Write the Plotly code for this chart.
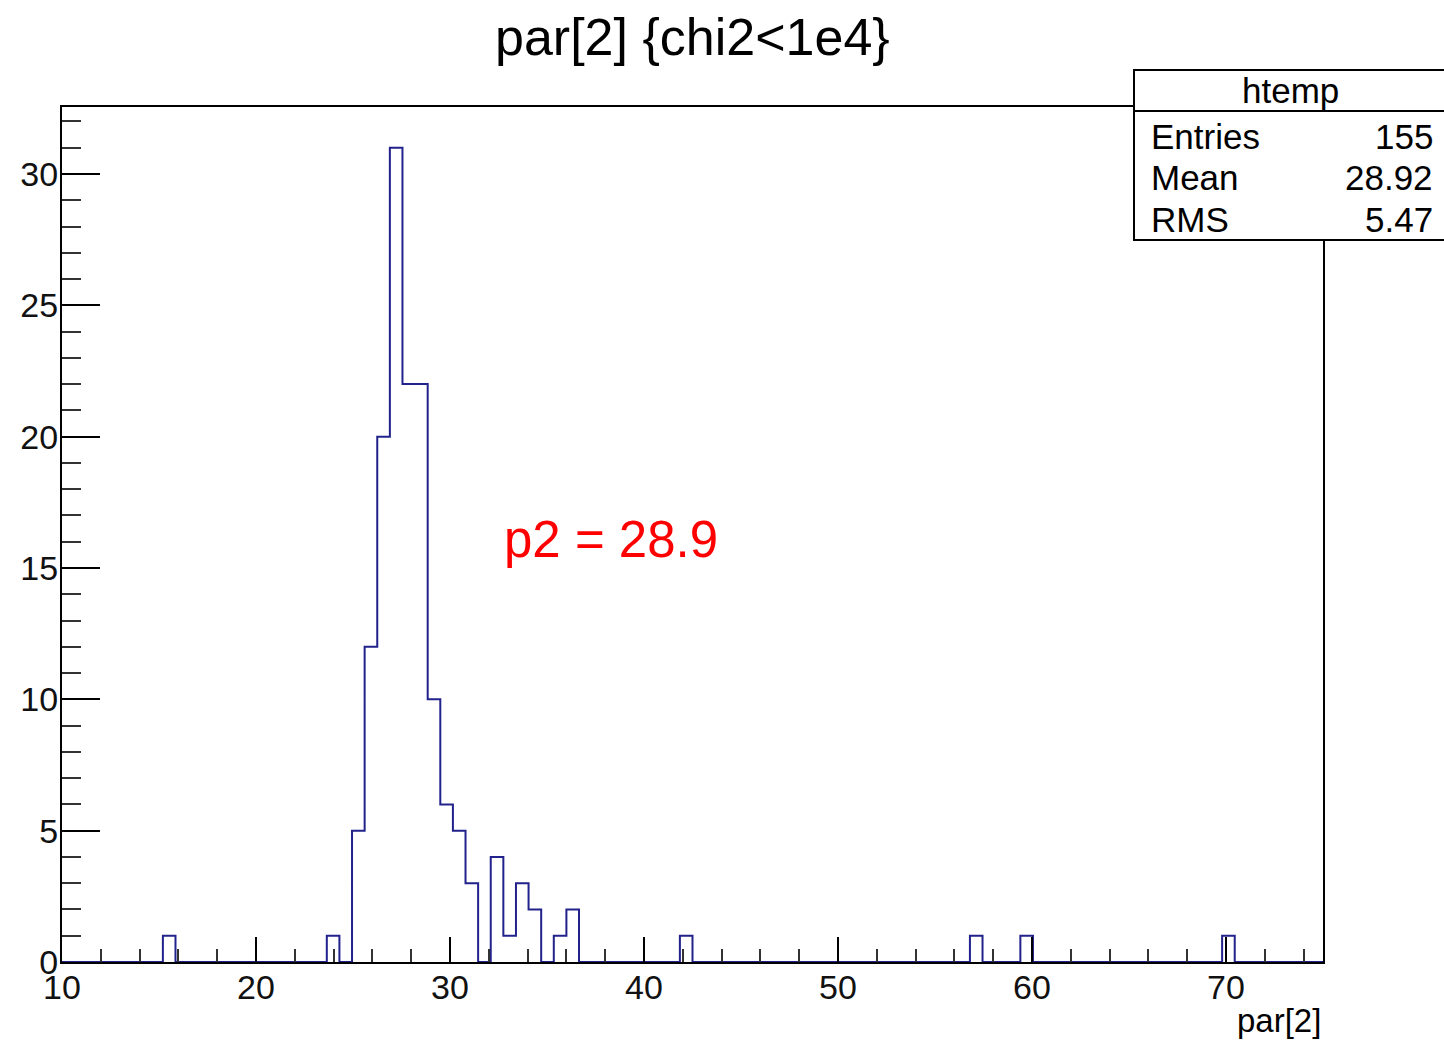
import plotly.graph_objects as go

# ---- data ----
x_min, x_max, n_bins = 10.0, 75.0, 100
counts = [
    0, 0, 0, 0, 0, 0, 0, 0, 1, 0,
    0, 0, 0, 0, 0, 0, 0, 0, 0, 0,
    0, 1, 0, 5, 12, 20, 31, 22, 22, 10,
    6, 5, 3, 0, 4, 1, 3, 2, 0, 1,
    2, 0, 0, 0, 0, 0, 0, 0, 0, 1,
    0, 0, 0, 0, 0, 0, 0, 0, 0, 0,
    0, 0, 0, 0, 0, 0, 0, 0, 0, 0,
    0, 0, 1, 0, 0, 0, 1, 0, 0, 0,
    0, 0, 0, 0, 0, 0, 0, 0, 0, 0,
    0, 0, 1, 0, 0, 0, 0, 0, 0, 0,
]
y_max = 32.55
title_text = "par[2] {chi2<1e4}"
x_title = "par[2]"
stats_name = "htemp"
stats_labels = ["Entries", "Mean", "RMS"]
stats_values = ["155", "28.92", "5.47"]
fit_label = "p2 = 28.9"
fit_label_pos = (32.7, 16.1)

# ---- geometry ----
W, H = 1444, 1040
L, R, T, B = 62, 1323, 107, 962
pw, ph = R - L, B - T

def px(xpix):
    return (xpix - L) / pw

def py(ypix):
    return (B - ypix) / ph

FONT = "Liberation Sans, Arial, Helvetica, sans-serif"

width = (x_max - x_min) / n_bins
edges = [x_min + i * width for i in range(n_bins + 1)]
ys = counts + [counts[-1]]

fig = go.Figure()
fig.add_trace(go.Scatter(
    x=edges, y=ys, mode="lines", line_shape="hv",
    line=dict(color="#22228c", width=2), hoverinfo="skip", showlegend=False,
))

fig.update_layout(
    width=W, height=H,
    margin=dict(l=L, r=W - R, t=T, b=H - B, pad=0),
    paper_bgcolor="white", plot_bgcolor="white",
    font=dict(family=FONT, color="black"),
    showlegend=False,
)

fig.update_xaxes(
    range=[x_min, x_max], showgrid=False, zeroline=False,
    showline=True, linecolor="black", linewidth=2, mirror=True,
    ticks="inside", tick0=10, dtick=10, ticklen=25, tickwidth=2, tickcolor="black",
    minor=dict(ticks="inside", dtick=2, tick0=10, ticklen=13, tickwidth=2, tickcolor="#333333", showgrid=False),
    tickfont=dict(size=34, family=FONT, color="#111111"),
    ticklabelstandoff=-6,
)
fig.update_yaxes(
    range=[0, y_max], showgrid=False, zeroline=False,
    showline=True, linecolor="black", linewidth=2, mirror=True,
    ticks="inside", tick0=0, dtick=5, ticklen=38, tickwidth=2, tickcolor="black",
    minor=dict(ticks="inside", dtick=1, tick0=0, ticklen=19, tickwidth=2, tickcolor="#333333", showgrid=False),
    tickfont=dict(size=34, family=FONT, color="#111111"),
    ticklabelstandoff=-5,
)

ann = []
# title
ann.append(dict(text=title_text, xref="paper", yref="paper", x=0.5, y=py(37),
                xanchor="center", yanchor="middle", showarrow=False,
                font=dict(size=52, family=FONT, color="black")))
# x axis title
ann.append(dict(text=x_title, xref="paper", yref="paper", x=1.0, y=py(1020),
                xanchor="right", yanchor="middle", showarrow=False,
                font=dict(size=33, family=FONT, color="black")))
# red label
ann.append(dict(text=fit_label, xref="x", yref="y", x=fit_label_pos[0], y=fit_label_pos[1],
                xanchor="left", yanchor="middle", showarrow=False,
                font=dict(size=51, family=FONT, color="#ff0000")))

# stats box
bx0, bx1, by0, bsep, by1 = 1134, 1447, 70, 111, 240
shapes = [
    dict(type="rect", xref="paper", yref="paper", x0=px(bx0), x1=px(bx1), y0=py(by1), y1=py(by0),
         fillcolor="white", line=dict(color="black", width=2), layer="above"),
    dict(type="line", xref="paper", yref="paper", x0=px(bx0), x1=px(bx1), y0=py(bsep), y1=py(bsep),
         line=dict(color="black", width=2), layer="above"),
]
ann.append(dict(text=stats_name, xref="paper", yref="paper", x=px(1290), y=py(90),
                xanchor="center", yanchor="middle", showarrow=False,
                font=dict(size=35, family=FONT, color="black")))
row_y = [136, 177, 219]
for lab, val, yy in zip(stats_labels, stats_values, row_y):
    ann.append(dict(text=lab, xref="paper", yref="paper", x=px(1149), y=py(yy),
                    xanchor="left", yanchor="middle", showarrow=False,
                    font=dict(size=35, family=FONT, color="black")))
    ann.append(dict(text=val, xref="paper", yref="paper", x=px(1435), y=py(yy),
                    xanchor="right", yanchor="middle", showarrow=False,
                    font=dict(size=35, family=FONT, color="black")))

fig.update_layout(annotations=ann, shapes=shapes)
fig.write_html("out.html")
